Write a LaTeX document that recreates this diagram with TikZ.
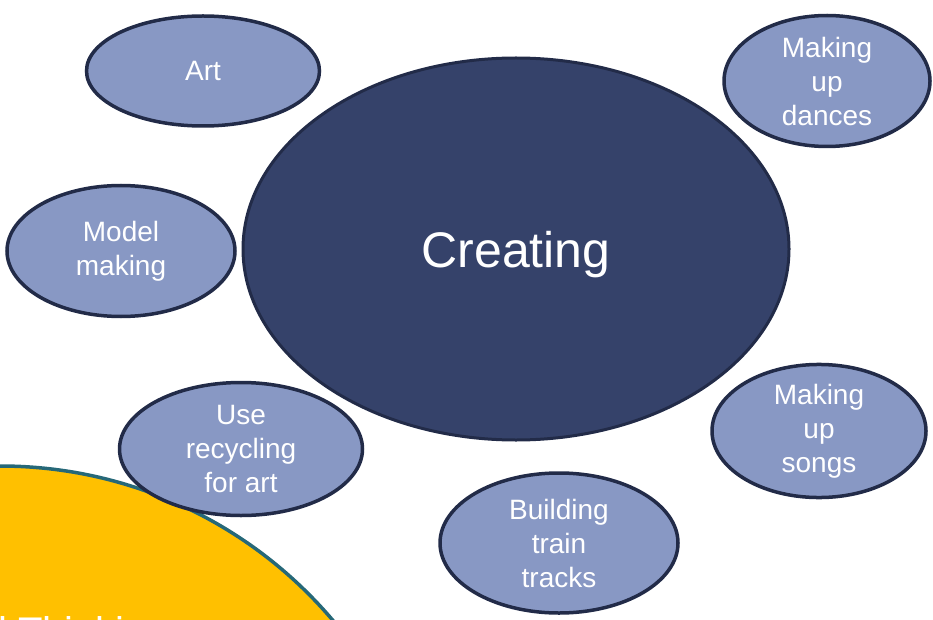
\documentclass[tikz,border=0pt]{standalone}
\usepackage{fontspec}
\setmainfont{Liberation Sans}
\usepackage{xcolor}
\usetikzlibrary{shapes.geometric}

\definecolor{kernblau}{RGB}{53,66,106}
\definecolor{ideeblau}{RGB}{136,152,196}
\definecolor{randblau}{RGB}{34,43,72}
\definecolor{gelb}{RGB}{255,192,0}
\definecolor{petrol}{RGB}{38,104,120}

\tikzset{
  idee/.style={ellipse, draw=randblau, line width=3.5pt, fill=ideeblau, text=white,
    inner sep=0pt, align=center, font=\fontsize{28}{34}\selectfont},
  kern/.style={ellipse, draw=randblau, line width=3pt, fill=kernblau, text=white,
    inner sep=0pt, text depth=0pt, font=\fontsize{50}{60}\selectfont}
}

\begin{document}
\begin{tikzpicture}[x=1pt,y=-1pt]
\useasboundingbox (0,0) rectangle (933,620);
\clip (0,0) rectangle (933,620); % alles ausserhalb des Bildes wird abgeschnitten
\draw[fill=gelb, draw=petrol, line width=3.5pt] (0,902) circle [radius=436pt];
\node[anchor=base west, inner sep=0pt, text=white, font=\fontsize{40}{48}\selectfont] (denken) at (-2,645) {l Thinking};
\node[kern, minimum width=546pt, minimum height=382pt] (creating) at (516,249) {Creating};
\node[idee, minimum width=233pt, minimum height=110pt] (art) at (203,71) {Art};
\node[idee, minimum width=206pt, minimum height=131pt] (tanz) at (827,81) {Making\\up\\dances};
\node[idee, minimum width=228pt, minimum height=131pt] (modell) at (121,251) {Model\\making};
\node[idee, minimum width=243pt, minimum height=133pt] (recycling) at (241,449) {Use\\recycling\\for art};
\node[idee, minimum width=214pt, minimum height=131pt] (lieder) at (819,431) {Making\\up\\songs};
\node[idee, minimum width=238pt, minimum height=140pt] (bahn) at (559,543) {Building\\train\\tracks};
\end{tikzpicture}
\end{document}
